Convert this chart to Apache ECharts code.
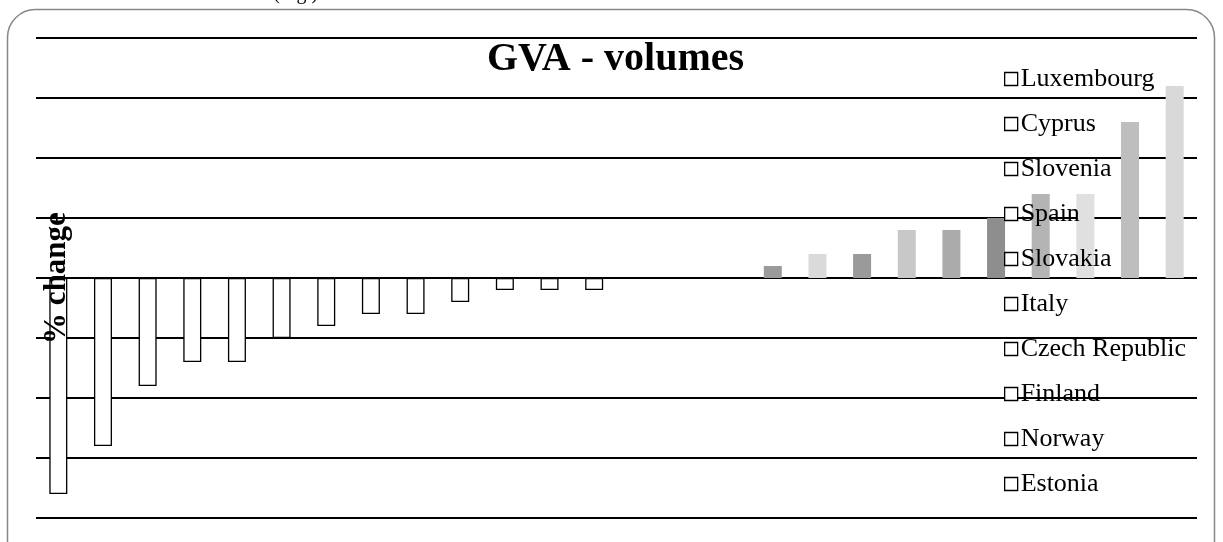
<!DOCTYPE html>
<html>
<head>
<meta charset="utf-8">
<script src="https://cdn.jsdelivr.net/npm/echarts@6/dist/echarts.min.js"></script>
<style>
  html, body { margin: 0; padding: 0; background: #fff; }
  #chart { width: 1223px; height: 542px; }
</style>
</head>
<body>
<div id="chart"></div>
<script>
// countries, left to right (only the first ten are named in the legend)
var countries = ['Estonia', 'Norway', 'Finland', 'Czech Republic', 'Italy',
	'Slovakia', 'Spain', 'Slovenia', 'Cyprus', 'Luxembourg',
	'Country 11', 'Country 12', 'Country 13', 'Country 14', 'Country 15',
	'Country 16', 'Country 17', 'Country 18', 'Country 19', 'Country 20',
	'Country 21', 'Country 22', 'Country 23', 'Country 24', 'Country 25',
	'Country 26'];
var changes = [-3.6, -2.8, -1.8, -1.4, -1.4, -1.0, -0.8, -0.6, -0.6, -0.4,
	-0.2, -0.2, -0.2, 0, 0, 0,
	0.2, 0.4, 0.4, 0.8, 0.8, 1.0, 1.4, 1.4, 2.6, 3.2];
var barColors = ['#fff', '#fff', '#fff', '#fff', '#fff', '#fff', '#fff', '#fff', '#fff', '#fff',
	'#fff', '#fff', '#fff', '#fff', '#fff', '#fff',
	'#9a9a9a', '#dadada', '#9a9a9a', '#c8c8c8', '#ababab', '#8e8e8e', '#b4b4b4', '#e0e0e0', '#bebebe', '#d9d9d9'];
var legendNames = ['Luxembourg', 'Cyprus', 'Slovenia', 'Spain', 'Slovakia',
	'Italy', 'Czech Republic', 'Finland', 'Norway', 'Estonia'];

var chart = echarts.init(document.getElementById('chart'));

var series = countries.map(function (name, i) {
	var data = countries.map(function (c, j) { return j === i ? changes[i] : null; });
	var neg = changes[i] <= 0;
	return {
		name: name,
		type: 'bar',
		stack: 'all',
		barWidth: 18,
		data: data,
		itemStyle: {
			color: barColors[i],
			borderColor: neg ? '#000' : barColors[i],
			borderWidth: neg ? 1.3 : 0
		}
	};
});

var option = {
	animation: false,
	textStyle: { fontFamily: 'Liberation Serif' },
	title: {
		text: 'GVA - volumes',
		left: 482,
		top: 35,
		textStyle: { fontFamily: 'Liberation Serif', fontSize: 40, fontWeight: 'bold', color: '#000' }
	},
	legend: {
		data: legendNames,
		orient: 'vertical',
		left: 999,
		top: 61,
		itemWidth: 13,
		itemHeight: 13,
		itemGap: 19,
		itemStyle: { borderWidth: 1.3 },
		icon: 'rect',
		textStyle: { fontFamily: 'Liberation Serif', fontSize: 26, color: '#000', padding: [0, 0, 0, -2] }
	},
	graphic: [{
		type: 'rect',
		shape: { x: 7.5, y: 9.5, width: 1207, height: 560, r: 28 },
		style: { fill: 'none', stroke: '#888', lineWidth: 1.5 },
		z: -1
	}, {
		type: 'text',
		left: 6,
		top: -16,
		style: { text: 'the newest trends and tendencies (Fig.).', font: '20px "Liberation Serif"', fill: '#000' }
	}, {
		// axis title, drawn over the bars
		type: 'text',
		x: 57,
		y: 278,
		rotation: Math.PI / 2,
		z: 100,
		style: {
			text: '% change',
			font: 'bold 31px "Liberation Serif"',
			fill: '#000',
			align: 'center',
			verticalAlign: 'middle'
		}
	}],
	grid: { left: 36, right: 26, top: 38, bottom: 24 },
	xAxis: {
		type: 'category',
		data: countries,
		axisLine: { show: false },
		axisTick: { show: false },
		axisLabel: { show: false }
	},
	yAxis: {
		type: 'value',
		min: -4,
		max: 4,
		interval: 1,
		axisLine: { show: false },
		axisTick: { show: false },
		axisLabel: { show: false },
		splitLine: { lineStyle: { color: '#000', width: 2 } }
	},
	series: series
};

chart.setOption(option);
</script>
</body>
</html>
